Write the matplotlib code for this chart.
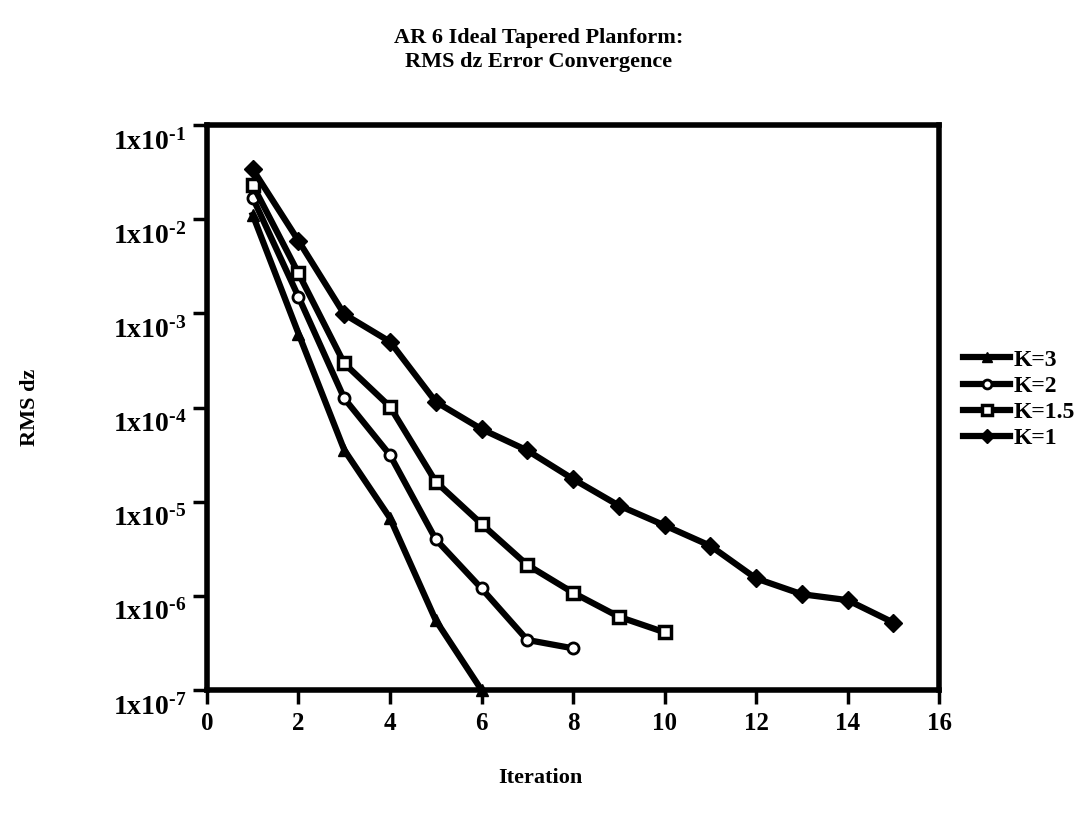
import matplotlib
matplotlib.use("Agg")
import matplotlib.pyplot as plt
import matplotlib.transforms as mtransforms
import numpy as np

plt.rcParams['font.family'] = ['Liberation Serif', 'DejaVu Serif']
plt.rcParams['font.weight'] = 'bold'
plt.rcParams['mathtext.fontset'] = 'custom'
plt.rcParams['mathtext.rm'] = 'Liberation Serif:bold'
plt.rcParams['mathtext.bf'] = 'Liberation Serif:bold'
plt.rcParams['mathtext.it'] = 'Liberation Serif:bold'

# Data
iter_k3 = [1, 2, 3, 4, 5, 6]
rms_k3 = [1.11e-2, 6.1e-4, 3.54e-5, 6.7e-6, 5.5e-7, 1.0e-7]
iter_k2 = [1, 2, 3, 4, 5, 6, 7, 8]
rms_k2 = [1.69e-2, 1.50e-3, 1.25e-4, 3.13e-5, 3.98e-6, 1.20e-6, 3.4e-7, 2.77e-7]
iter_k15 = [1, 2, 3, 4, 5, 6, 7, 8, 9, 10]
rms_k15 = [2.31e-2, 2.66e-3, 2.94e-4, 1.02e-4, 1.63e-5, 5.8e-6, 2.13e-6, 1.08e-6, 6.0e-7, 4.1e-7]
iter_k1 = [1, 2, 3, 4, 5, 6, 7, 8, 9, 10, 11, 12, 13, 14, 15]
rms_k1 = [3.39e-2, 5.9e-3, 9.8e-4, 5.0e-4, 1.15e-4, 5.9e-5, 3.5e-5, 1.74e-5,
          9.1e-6, 5.6e-6, 3.4e-6, 1.53e-6, 1.04e-6, 9.0e-7, 5.2e-7]

x_ticks = [0, 2, 4, 6, 8, 10, 12, 14, 16]
y_ticks = [1e-1, 1e-2, 1e-3, 1e-4, 1e-5, 1e-6, 1e-7]
y_ticklabels = [r'$1x10^{\text{-}1}$', r'$1x10^{\text{-}2}$', r'$1x10^{\text{-}3}$',
                r'$1x10^{\text{-}4}$', r'$1x10^{\text{-}5}$', r'$1x10^{\text{-}6}$',
                r'$1x10^{\text{-}7}$']

fig = plt.figure(figsize=(10.83, 8.15), dpi=100)
ax = fig.add_axes([0.1911, 0.1534, 0.6760, 0.6932])

lw = 4.5
ax.plot(iter_k3, rms_k3, color='black', lw=lw, marker='^', ms=9,
        mfc='black', mec='black', label='K=3', clip_on=False, zorder=3)
ax.plot(iter_k2, rms_k2, color='black', lw=lw, marker='o', ms=8,
        mfc='white', mec='black', mew=2, label='K=2', zorder=3)
ax.plot(iter_k15, rms_k15, color='black', lw=lw, marker='s', ms=9,
        mfc='white', mec='black', mew=2.5, label='K=1.5', zorder=3)
ax.plot(iter_k1, rms_k1, color='black', lw=lw, marker='D', ms=9,
        mfc='black', mec='black', label='K=1', zorder=3)

ax.set_yscale('log')
ax.set_xlim(0, 16)
ax.set_ylim(1e-7, 1e-1)
ax.set_xticks(x_ticks)
ax.set_xticklabels([str(t) for t in x_ticks], fontsize=18, fontweight='bold')
ax.set_yticks(y_ticks)
ax.set_yticklabels(y_ticklabels, fontsize=20)
ax.yaxis.set_minor_locator(matplotlib.ticker.NullLocator())
ax.tick_params(axis='both', which='major', direction='out', length=10, width=2.5,
               color='black', pad=5)
ax.tick_params(axis='x', pad=6)
for s in ax.spines.values():
    s.set_linewidth(4)

# shift y tick labels downward (superscript top near the tick)
off = mtransforms.ScaledTranslation(0, -14 / 100.0, fig.dpi_scale_trans)
for lab in ax.get_yticklabels():
    lab.set_transform(lab.get_transform() + off)

fig.text(0.4986, 0.0454, 'Iteration', fontsize=16, fontweight='bold',
         ha='center', va='center')
fig.text(0.028, 0.5, 'RMS dz', rotation=90, fontsize=16, fontweight='bold',
         ha='center', va='center')

fig.text(0.497, 0.9387, 'AR 6 Ideal Tapered Planform:\nRMS dz Error Convergence',
         ha='center', va='center', fontsize=16, fontweight='bold', linespacing=1.3)

leg = ax.legend(loc='upper left', bbox_to_anchor=(1.02, 0.62), frameon=False,
                fontsize=17, handlelength=2.0, handletextpad=0.15,
                labelspacing=0.2, borderaxespad=0, markerscale=0.8)

fig.savefig('out.png', dpi=100, facecolor='white')
